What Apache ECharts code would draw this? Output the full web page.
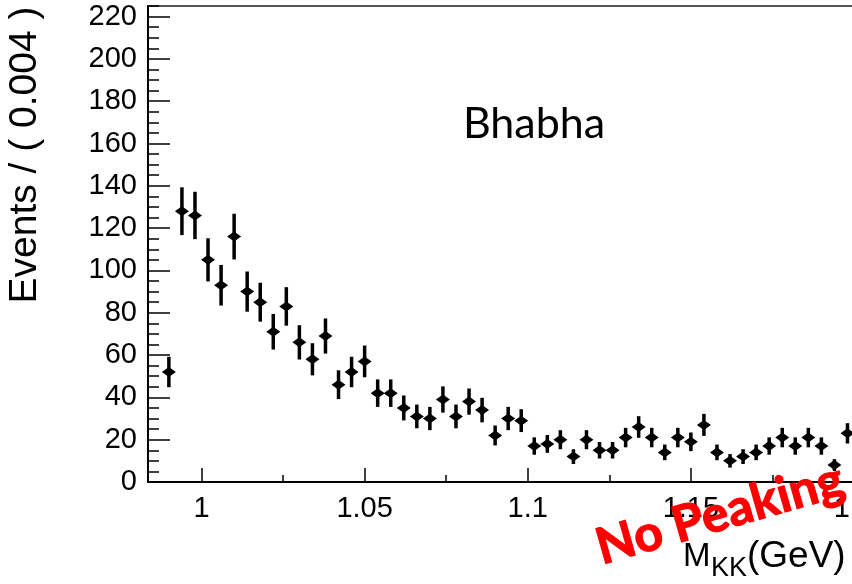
<!DOCTYPE html>
<html><head><meta charset="utf-8">
<script src="https://cdn.jsdelivr.net/npm/echarts@6/dist/echarts.min.js"></script>
<style>html,body{margin:0;padding:0;background:#fff}#c{width:852px;height:584px}</style>
</head><body><div id="c"></div>
<script>
// Bin centres of M_KK (GeV), bin width 0.004
const massBins = [0.990,0.994,0.998,1.002,1.006,1.010,1.014,1.018,1.022,1.026,1.030,1.034,1.038,1.042,1.046,1.050,1.054,1.058,1.062,1.066,1.070,1.074,1.078,1.082,1.086,1.090,1.094,1.098,1.102,1.106,1.110,1.114,1.118,1.122,1.126,1.130,1.134,1.138,1.142,1.146,1.150,1.154,1.158,1.162,1.166,1.170,1.174,1.178,1.182,1.186,1.190,1.194,1.198];
const events = [52,128,126,105,93,116,90,85,71,83,66,58,69,46,52,57,42,42,35,31,30,39,31,38,34,22,30,29,17,18,20,12,20,15,15,21,26,21,14,21,19,27,14,10,12,14,17,21,17,21,17,8,23];
const errors = [7.2,11.3,11.2,10.2,9.6,10.8,9.5,9.2,8.4,9.1,8.1,7.6,8.3,6.8,7.2,7.5,6.5,6.5,5.9,5.6,5.5,6.2,5.6,6.2,5.8,4.7,5.5,5.4,4.1,4.2,4.5,3.5,4.5,3.9,3.9,4.6,5.1,4.6,3.7,4.6,4.4,5.2,3.7,3.2,3.5,3.7,4.1,4.6,4.1,4.6,4.1,2.8,4.8];
const xTickLabels = [1.0,1.05,1.1,1.15,1.2];
const xMinorTicks = [1.025,1.075,1.125,1.175];
const yTickLabels = [0,20,40,60,80,100,120,140,160,180,200,220];
const yMinorTicks = [5,10,15,25,30,35,45,50,55,65,70,75,85,90,95,105,110,115,125,130,135,145,150,155,165,170,175,185,190,195,205,210,215,225];

const chart = echarts.init(document.getElementById('c'), null, {renderer:'canvas'});
const FONT = 'Liberation Sans';
const option = {
  animation: false,
  backgroundColor: '#fff',
  grid: {left:148, right:-2, top:6, bottom:102, containLabel:false, outerBoundsMode:'none',
         show:true, borderColor:'#555', borderWidth:2, backgroundColor:'transparent'},
  xAxis: [
    {type:'value', min:0.9836, max:1.2, position:'bottom',
     axisLine:{show:true, onZero:false, lineStyle:{color:'#000', width:2}},
     axisTick:{show:true, inside:true, length:14, customValues:xTickLabels, lineStyle:{color:'#000', width:1.5}},
     axisLabel:{show:true, customValues:xTickLabels, formatter:v=>String(+(+v).toFixed(3)), fontFamily:FONT, fontSize:29, color:'#000', margin:12, hideOverlap:false},
     splitLine:{show:false}},
    {type:'value', min:0.9836, max:1.2, position:'bottom',
     axisLine:{show:false, onZero:false},
     axisTick:{show:true, inside:true, length:7, customValues:xMinorTicks, lineStyle:{color:'#000', width:1.5}},
     axisLabel:{show:false}, splitLine:{show:false}}
  ],
  yAxis: [
    {type:'value', min:0, max:225, position:'left',
     axisLine:{show:true, onZero:false, lineStyle:{color:'#000', width:2}},
     axisTick:{show:true, inside:true, length:22, customValues:yTickLabels, lineStyle:{color:'#000', width:1.5}},
     axisLabel:{show:true, customValues:yTickLabels, fontFamily:FONT, fontSize:29, color:'#000', margin:11},
     splitLine:{show:false}},
    {type:'value', min:0, max:225, position:'left',
     axisLine:{show:false, onZero:false},
     axisTick:{show:true, inside:true, length:11, customValues:yMinorTicks, lineStyle:{color:'#000', width:1.5}},
     axisLabel:{show:false}, splitLine:{show:false}}
  ],
  series: [{
    type:'custom', xAxisIndex:0, yAxisIndex:0, clip:false,
    data: massBins.map((m,i)=>[m, events[i], errors[i]]),
    encode:{x:0, y:1},
    renderItem:function(params, api){
      const x = api.value(0), y = api.value(1), e = api.value(2);
      const p = api.coord([x,y]);
      const t = api.coord([x,y+e]);
      const b = api.coord([x,y-e]);
      return {type:'group', children:[
        {type:'line', shape:{x1:p[0], y1:t[1], x2:p[0], y2:b[1]}, style:{stroke:'#000', lineWidth:3.5}},
        {type:'polygon', shape:{points:[[p[0]-7,p[1]],[p[0],p[1]-5],[p[0]+7,p[1]],[p[0],p[1]+5]]}, style:{fill:'#000'}}
      ]};
    }
  }],
  graphic: [
    {type:'text', x:25, y:155, rotation:Math.PI/2, style:{text:'Events / ( 0.004 )', fontFamily:FONT, fontSize:39, fill:'#000', textAlign:'center', textVerticalAlign:'middle'}},
    {type:'text', x:534, y:124, style:{text:'Bhabha', fontFamily:'Lato', fontSize:43, fill:'#000', textAlign:'center', textVerticalAlign:'middle'}},
    {type:'text', x:683, y:557, style:{text:'M', fontFamily:FONT, fontSize:33, fill:'#000', textAlign:'left', textVerticalAlign:'middle'}},
    {type:'text', x:711, y:569, style:{text:'KK', fontFamily:FONT, fontSize:27, fill:'#000', textAlign:'left', textVerticalAlign:'middle'}},
    {type:'text', x:747, y:557, style:{text:'(GeV)', fontFamily:FONT, fontSize:37, fill:'#000', textAlign:'left', textVerticalAlign:'middle'}},
    {type:'text', x:720, y:514, rotation:16*Math.PI/180, z:100, style:{text:'No Peaking', fontFamily:'Lato', fontWeight:'bold', fontSize:50, fill:'#ff0000', stroke:'#ff0000', lineWidth:1.2, textAlign:'center', textVerticalAlign:'middle'}}
  ]
};
chart.setOption(option);
</script>
</body></html>
